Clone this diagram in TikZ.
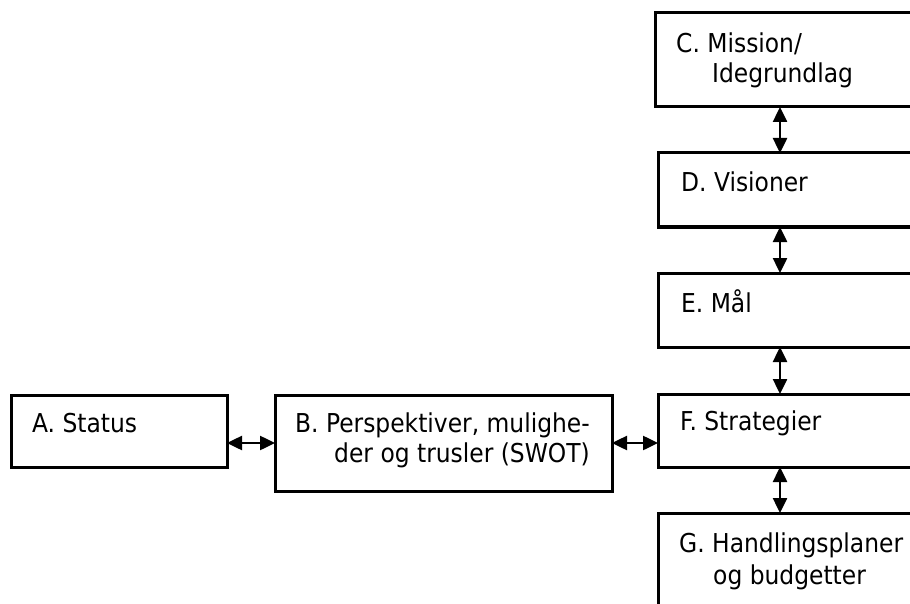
\documentclass[tikz,border=0pt]{standalone}
\usepackage{fontspec}
\setmainfont{DejaVu Sans Condensed}
\usetikzlibrary{arrows.meta}
\begin{document}
\begin{tikzpicture}[x=1pt,y=-1pt,
  box/.style={draw,line width=3pt,rectangle,inner sep=0pt,outer sep=0pt,anchor=north west},
  lbl/.style={anchor=base west,inner sep=0pt,font=\fontsize{26}{30}\selectfont},
  link/.style={line width=2.5pt,{Triangle[length=15pt,width=14pt]}-{Triangle[length=15pt,width=14pt]}}]
\useasboundingbox (0,0) rectangle (910,604);
\clip (0,0) rectangle (910,604);
\fill[white] (0,0) rectangle (910,604);
% boxes
\node[box,minimum width=300pt,minimum height=94pt] (cbox) at (655,13) {};
\node[box,minimum width=300pt,minimum height=74pt] (dbox) at (658,153) {};
\node[box,minimum width=300pt,minimum height=74pt] (ebox) at (658,273) {};
\node[box,minimum width=300pt,minimum height=73pt] (fbox) at (658,394) {};
\node[box,minimum width=300pt,minimum height=120pt] (gbox) at (658,513) {};
\node[box,minimum width=216pt,minimum height=72pt] (abox) at (11,395) {};
\node[box,minimum width=337pt,minimum height=96pt] (bbox) at (275,395) {};
% texts
\node[lbl] (ct1) at (676,53) {C. Mission/};
\node[lbl] (ct2) at (712,83) {Idegrundlag};
\node[lbl] (dt) at (681,192) {D. Visioner};
\node[lbl] (et) at (681,312) {E. Mål};
\node[lbl] (ft) at (680,430) {F. Strategier};
\node[lbl] (gt1) at (679,552) {G. Handlingsplaner};
\node[lbl] (gt2) at (713,584) {og budgetter};
\node[lbl] (at) at (32,432) {A. Status};
\node[lbl] (bt1) at (295,432) {B. Perspektiver, mulighe-};
\node[lbl,anchor=base east] (bt2) at ([yshift=-30pt]bt1.base east) {der og trusler (SWOT)};
% connectors
\draw[link] ([xshift=125pt]cbox.south west) -- ([xshift=122pt]dbox.north west);
\draw[link] ([xshift=122pt]dbox.south west) -- ([xshift=122pt]ebox.north west);
\draw[link] ([xshift=122pt]ebox.south west) -- ([xshift=122pt]fbox.north west);
\draw[link] ([xshift=122pt]fbox.south west) -- ([xshift=122pt]gbox.north west);
\draw[link] (abox.east |- bbox.west) -- (bbox.west);
\draw[link] (bbox.east) -- (bbox.east -| fbox.west);
\end{tikzpicture}
\end{document}
